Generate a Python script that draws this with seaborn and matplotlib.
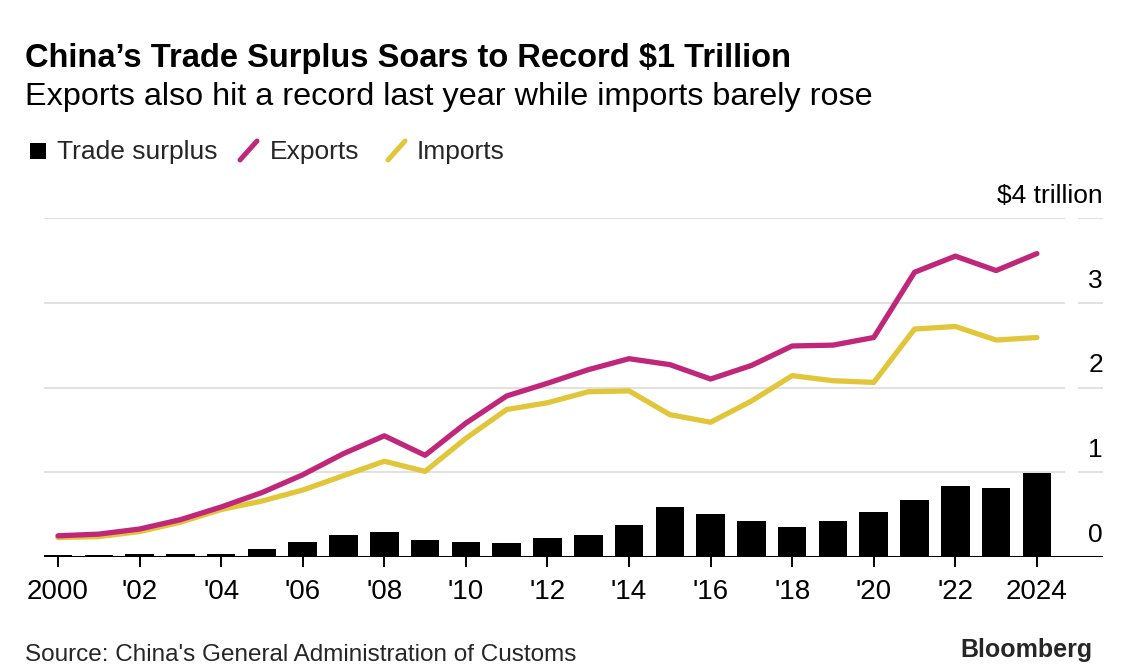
import matplotlib
matplotlib.use("Agg")
import matplotlib.pyplot as plt
import seaborn as sns
from matplotlib.lines import Line2D
from matplotlib.patches import Rectangle
import matplotlib.transforms as mtransforms

# values in $ trillion
years = list(range(2000, 2025))
exports = [0.25, 0.27, 0.33, 0.44, 0.59, 0.76, 0.97, 1.22, 1.43, 1.20, 1.58, 1.90, 2.05,
           2.21, 2.34, 2.27, 2.10, 2.26, 2.49, 2.50, 2.59, 3.36, 3.55, 3.38, 3.58]
imports = [0.23, 0.24, 0.30, 0.41, 0.56, 0.66, 0.79, 0.96, 1.13, 1.01, 1.40, 1.74, 1.82,
           1.95, 1.96, 1.68, 1.59, 1.84, 2.14, 2.08, 2.06, 2.69, 2.72, 2.56, 2.59]
surplus = [0.02, 0.02, 0.03, 0.03, 0.03, 0.10, 0.18, 0.26, 0.30, 0.20, 0.18, 0.16, 0.23,
           0.26, 0.38, 0.59, 0.51, 0.42, 0.35, 0.42, 0.53, 0.67, 0.84, 0.81, 0.99]

xtick_years = list(range(2000, 2025, 2))
xtick_labels = ["2000", "'02", "'04", "'06", "'08", "'10", "'12", "'14", "'16", "'18", "'20", "'22", "2024"]
ytick_vals = [0, 1, 2, 3, 4]
ytick_labels = ["0", "1", "2", "3", "$4 trillion"]

EXP_C = "#C0267A"
IMP_C = "#E2C63A"
GRID_C = "#D9D9D9"

sns.set_theme(style="white")
plt.rcParams["font.family"] = ["Liberation Sans", "DejaVu Sans"]

W, H = 1130, 664
fig = plt.figure(figsize=(W / 100, H / 100), dpi=100)
# axes spans x 44..1103 px, y 218 (=4) .. 557 (=0)
ax = fig.add_axes([44 / W, (H - 557) / H, (1103 - 44) / W, (557 - 218) / H])

x0, x1 = 1999.657, 2025.62
ax.set_xlim(x0, x1)
ax.set_ylim(0, 4)

# gridlines with a gap before the right-hand labels
ax.hlines(ytick_vals[1:], x0, 2024.69, color=GRID_C, linewidth=1.1, zorder=0)
ax.hlines(ytick_vals[1:], 2025.0, x1, color=GRID_C, linewidth=1.1, zorder=0)

sns.barplot(x=years, y=surplus, native_scale=True, width=0.7, color="black",
            saturation=1, linewidth=0, ax=ax, zorder=2)
sns.lineplot(x=years, y=imports, color=IMP_C, linewidth=3.8, ax=ax,
             solid_capstyle="round", zorder=3)
sns.lineplot(x=years, y=exports, color=EXP_C, linewidth=3.8, ax=ax,
             solid_capstyle="round", zorder=4)

ax.axhline(0, color="black", linewidth=2.2, zorder=5)

for s in ax.spines.values():
    s.set_visible(False)

ax.set_xticks(xtick_years)
ax.set_xticklabels(xtick_labels, fontsize=20, color="black")
ax.tick_params(axis="x", direction="out", length=7.5, width=1.4, color="black", pad=8, bottom=True)
ax.set_yticks([])
ax.set_xlabel("")
ax.set_ylabel("")

# right-side y labels, sitting above their gridlines
trans = mtransforms.blended_transform_factory(ax.transAxes, ax.transData)
off = mtransforms.offset_copy(trans, fig=fig, x=0, y=15, units="dots")
for v, lab in zip(ytick_vals, ytick_labels):
    ax.text(1.0, v, lab, transform=off, ha="right", va="baseline", fontsize=19, color="black")

# titles
fig.text(25 / W, 1 - 67 / H, "China\u2019s Trade Surplus Soars to Record $1 Trillion",
         fontsize=23.5, fontweight="bold", va="baseline", ha="left", color="black")
fig.text(25 / W, 1 - 105 / H, "Exports also hit a record last year while imports barely rose",
         fontsize=23.3, va="baseline", ha="left", color="black")

# legend
fig.patches.append(Rectangle((30 / W, 1 - 159 / H), 16 / W, 16 / H, transform=fig.transFigure,
                             facecolor="black", edgecolor="none"))
fig.text(57 / W, 1 - 159 / H, "Trade surplus", fontsize=19, va="baseline", ha="left")
fig.lines.append(Line2D([240 / W, 257 / W], [1 - 160 / H, 1 - 141 / H], transform=fig.transFigure,
                        color=EXP_C, linewidth=3.6, solid_capstyle="round"))
fig.text(270 / W, 1 - 159 / H, "Exports", fontsize=19, va="baseline", ha="left")
fig.lines.append(Line2D([388 / W, 405 / W], [1 - 160 / H, 1 - 141 / H], transform=fig.transFigure,
                        color=IMP_C, linewidth=3.6, solid_capstyle="round"))
fig.text(417 / W, 1 - 159 / H, "Imports", fontsize=19, va="baseline", ha="left")

# footer
fig.text(25 / W, 1 - 661 / H, "Source: China's General Administration of Customs",
         fontsize=17.5, va="baseline", ha="left")
fig.text(1093 / W, 1 - 657 / H, "Bloomberg", fontsize=18, fontweight="bold",
         va="baseline", ha="right")

fig.savefig("out.png", dpi=100, facecolor="white")
